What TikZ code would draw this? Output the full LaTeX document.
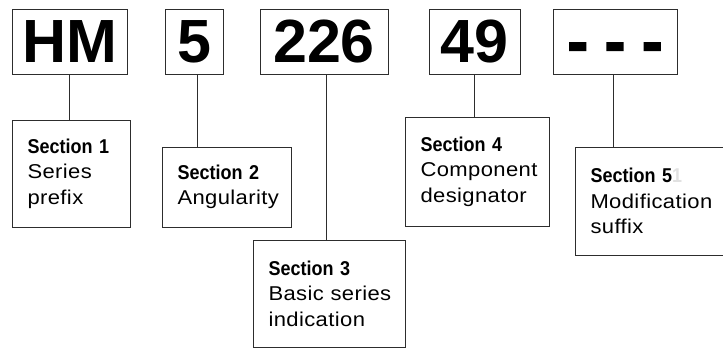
\documentclass[tikz,border=0pt]{standalone}
\usepackage{fontspec}
\setmainfont{Liberation Sans}
\newfontfamily\headfont{Liberation Sans}[FakeStretch=0.9]
\newfontfamily\bodyfont{Liberation Sans}[FakeStretch=1.1, LetterSpace=2]
\newfontfamily\dashfont{Liberation Sans}[FakeBold=3]
\definecolor{linegray}{RGB}{45, 45, 45}
\definecolor{ghost}{RGB}{225, 225, 225}
\hyphenpenalty=10000
\exhyphenpenalty=10000

\begin{document}
\begin{tikzpicture}[
    x=1pt, y=-1pt,
    codebox/.style={draw=linegray, line width=0.9pt, inner sep=0pt, minimum height=65pt, font=\fontsize{61}{61}\selectfont\bfseries},
    secbox/.style={draw=linegray, line width=0.9pt, inner xsep=15.5pt, inner ysep=0pt, align=left, font=\bodyfont\fontsize{20}{25.5}\selectfont},
    link/.style={linegray, line width=0.9pt}
]
    \useasboundingbox (0,0) rectangle (723,348);
    \clip (0,0) rectangle (723,348);

    % code parts
    \node[codebox, minimum width=115pt] (hm) at (69.5,41.5) {HM};
    \node[codebox, minimum width=58pt] (ang) at (194,41.5) {5};
    \node[codebox, minimum width=128pt] (ser) at (324,41.5) {226};
    \node[codebox, minimum width=91pt] (comp) at (474.5,41.5) {49};
    \node[codebox, minimum width=124pt] (mod) at (615,41.5) {\vphantom{HM}\dashfont - - -};

    % section boxes
    \node[secbox, text width=87pt, minimum height=107pt] (sec1) at (71,173.5) {{\headfont\bfseries Section 1}\\Series\\prefix};
    \node[secbox, text width=98pt, minimum height=80pt] (sec2) at (226.5,187) {{\headfont\bfseries Section 2}\\Angularity};
    \node[secbox, text width=121pt, minimum height=107pt] (sec3) at (329,293.5) {{\headfont\bfseries Section 3}\\\mbox{Basic series}\\indication};
    \node[secbox, text width=113pt, minimum height=109pt] (sec4) at (477,171.5) {{\headfont\bfseries Section 4}\\Component\\designator};
    \node[secbox, text width=119pt, minimum height=108pt] (sec5) at (650,201) {{\headfont\bfseries Section 5}{\headfont\bfseries\color{ghost}1}\\Modification\\suffix};

    \draw[link] (hm.south) -- (hm.south |- sec1.north);
    \draw[link] ([xshift=3pt]ang.south) -- ([xshift=3pt]ang.south |- sec2.north);
    \draw[link] ([xshift=2pt]ser.south) -- ([xshift=2pt]ser.south |- sec3.north);
    \draw[link] (comp.south) -- (comp.south |- sec4.north);
    \draw[link] ([xshift=-2pt]mod.south) -- ([xshift=-2pt]mod.south |- sec5.north);
\end{tikzpicture}
\end{document}
